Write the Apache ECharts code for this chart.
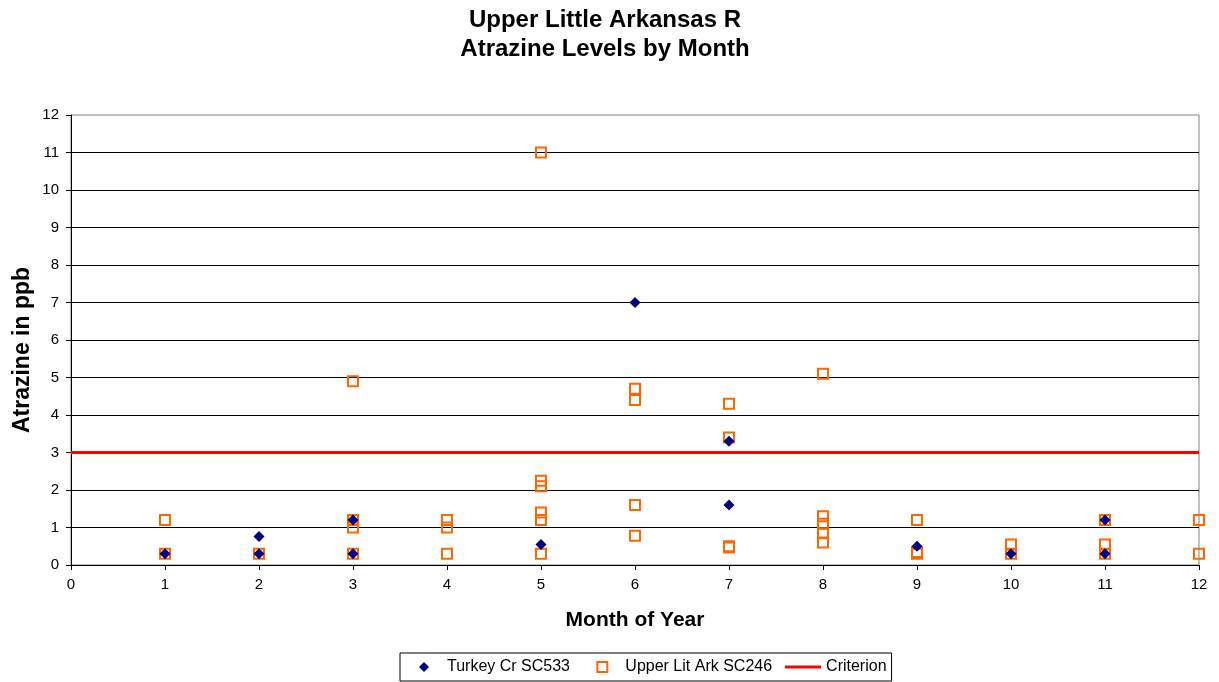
<!DOCTYPE html>
<html>
<head>
<meta charset="utf-8">
<script src="https://cdn.jsdelivr.net/npm/echarts@6/dist/echarts.min.js"></script>
<style>
  html, body { margin: 0; padding: 0; background: #fff; }
  #chart { width: 1219px; height: 682px; }
</style>
</head>
<body>
<div id="chart"></div>
<script>
// ---- data ----
const titleLines = ['Upper Little Arkansas R', 'Atrazine Levels by Month'];
const seriesNames = ['Turkey Cr SC533', 'Upper Lit Ark SC246', 'Criterion'];
const xAxisName = 'Month of Year';
const yAxisName = 'Atrazine in ppb';

const turkeyMonths = [1, 2, 2, 3, 3, 5, 6, 7, 7, 9, 10, 11, 11];
const turkeyValues = [0.3, 0.3, 0.76, 0.3, 1.2, 0.55, 7.0, 3.3, 1.6, 0.5, 0.3, 1.2, 0.3];

const upperMonths = [1, 1, 2, 3, 3, 3, 3, 4, 4, 4, 5, 5, 5, 5, 5, 5, 6, 6, 6, 6, 7, 7, 7, 7, 8, 8, 8, 8, 8, 9, 9, 9, 10, 10, 11, 11, 11, 12, 12];
const upperValues = [1.2, 0.3, 0.3, 4.9, 1.2, 1.0, 0.3, 1.2, 1.0, 0.3, 11.0, 2.25, 2.1, 1.4, 1.2, 0.3, 4.7, 4.4, 1.6, 0.78, 4.3, 3.4, 0.5, 0.47, 5.1, 1.3, 1.1, 0.85, 0.6, 1.2, 0.35, 0.3, 0.55, 0.3, 1.2, 0.55, 0.3, 1.2, 0.3];

const criterionLevel = 3;
const monthRange = [0, 12];
const valueRange = [0, 12];

// ---- build ----
const zip = (xs, ys) => xs.map((x, i) => [x, ys[i]]);
const FONT = '"Liberation Sans", Arial, sans-serif';
const NAVY = '#000080';
const ORANGE = '#ff6600';
const RED = '#ff0000';

const chart = echarts.init(document.getElementById('chart'), null, { renderer: 'canvas' });
chart.setOption({
  backgroundColor: '#fff',
  animation: false,
  textStyle: { fontFamily: FONT, color: '#000' },
  title: {
    text: titleLines.join('\n'),
    left: 605,
    textAlign: 'center',
    top: 6,
    padding: 0,
    textStyle: { fontFamily: FONT, fontSize: 24, fontWeight: 'bold', color: '#000', lineHeight: 29 }
  },
  grid: {
    left: 71, right: 20, top: 115, bottom: 117,
    show: true, borderColor: '#808080', borderWidth: 1,
    outerBoundsMode: 'none'
  },
  legend: {
    left: 400,
    top: 653,
    padding: [6, 5, 6, 19],
    itemGap: 13,
    itemWidth: 36,
    itemHeight: 10,
    symbolKeepAspect: true,
    borderColor: '#000',
    borderWidth: 1,
    formatter: function (name) {
      return name === seriesNames[0] ? name + '\u00a0\u00a0\u00a0' : name;
    },
    textStyle: { fontFamily: FONT, fontSize: 16, color: '#000' },
    data: [
      { name: seriesNames[0], icon: 'path://M5,0L10,5L5,10L0,5Z',
        itemStyle: { color: NAVY, borderWidth: 0 } },
      { name: seriesNames[1], icon: 'path://M0,0L10,0L10,10L0,10Z',
        itemStyle: { color: 'rgba(255,255,255,0)', borderColor: ORANGE, borderWidth: 2 } },
      { name: seriesNames[2], icon: 'path://M0,0L36,0L36,3L0,3Z',
        itemStyle: { color: RED, borderWidth: 0 } }
    ]
  },
  xAxis: {
    type: 'value',
    min: monthRange[0], max: monthRange[1], interval: 1,
    name: xAxisName,
    nameLocation: 'middle',
    nameGap: 45,
    nameMoveOverlap: false,
    nameTextStyle: { fontFamily: FONT, fontSize: 21, fontWeight: 'bold', color: '#000' },
    axisLine: { show: true, lineStyle: { color: '#000', width: 1 } },
    axisTick: { show: true, inside: false, length: 5, lineStyle: { color: '#000' } },
    axisLabel: { fontFamily: FONT, fontSize: 15, color: '#000', margin: 12 },
    splitLine: { show: false }
  },
  yAxis: {
    type: 'value',
    min: valueRange[0], max: valueRange[1], interval: 1,
    name: yAxisName,
    nameLocation: 'middle',
    nameRotate: 90,
    nameGap: 37,
    nameMoveOverlap: false,
    nameTextStyle: { fontFamily: FONT, fontSize: 23, fontWeight: 'bold', color: '#000', padding: [0, 20, 0, 0] },
    axisLine: { show: true, lineStyle: { color: '#000', width: 1 } },
    axisTick: { show: true, inside: false, length: 5, lineStyle: { color: '#000' } },
    axisLabel: { fontFamily: FONT, fontSize: 15, color: '#000', margin: 12 },
    splitLine: { show: true, showMinLine: false, showMaxLine: false, lineStyle: { color: '#000', width: 1 } }
  },
  series: [
    {
      name: seriesNames[2],
      type: 'line',
      data: [[monthRange[0], criterionLevel], [monthRange[1], criterionLevel]],
      symbol: 'none',
      lineStyle: { color: RED, width: 3 },
      itemStyle: { color: RED },
      z: 2
    },
    {
      name: seriesNames[1],
      type: 'scatter',
      data: zip(upperMonths, upperValues),
      symbol: 'rect',
      symbolSize: 10,
      itemStyle: { color: 'rgba(255,255,255,0)', borderColor: ORANGE, borderWidth: 2, opacity: 1 },
      z: 3
    },
    {
      name: seriesNames[0],
      type: 'scatter',
      data: zip(turkeyMonths, turkeyValues),
      symbol: 'diamond',
      symbolSize: 11,
      itemStyle: { color: NAVY, opacity: 1 },
      z: 4
    }
  ]
});
</script>
</body>
</html>
